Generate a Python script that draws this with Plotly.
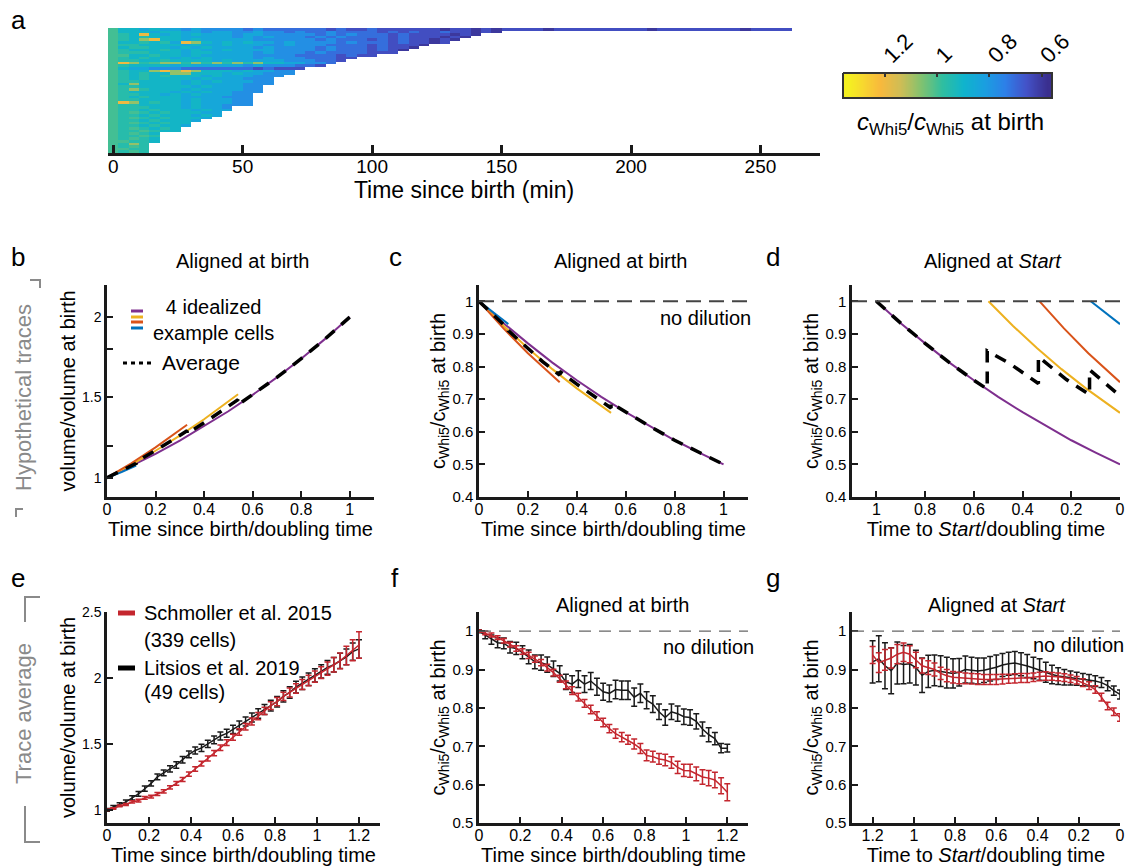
import plotly.graph_objects as go

W, H = 1129, 866
FONT = "Arial, Liberation Sans, Helvetica, sans-serif"
INK = "#1a1a1a"
GREY = "#8a8a8a"

# ---------------------------------------------------------------- panel a data
# heat map of c_Whi5 / c_Whi5 at birth, one string per cell, one char per 4-min bin
BIN_MIN = 4
# code digit -> c_Whi5 / c_Whi5 at birth
LEVELS = [0.60, 0.65, 0.71, 0.78, 0.85, 0.91, 0.96, 1.00, 1.08, 1.20]
HEAT_ROWS = [
    "7554544343" "3332322222" "2121121111" "11011010" "1111011111" "1111011111" "11101111",
    "7555455443" "4433433232" "2322221212" "11211010",
    "7659545454" "4434433333" "2323222121" "111010",
    "7656555444" "4434343332" "3232222121" "11010",
    "7658955454" "4444333333" "2322212121" "1010",
    "7556564985" "4545443433" "3323222121" "101",
    "7665555454" "4544433433" "3222212111" "0",
    "7566554545" "4444343333" "2322212110",
    "7655565454" "4544443333" "232221210",
    "7666555455" "4444343332" "32222111",
    "7755655454" "4444333322" "221211",
    "7656554545" "4444343332" "2211",
    "7665565555" "4544444333" "221",
    "7986788686" "8686855443" "32",
    "7655554544" "4443433322" "1",
    "7544333222" "222212111",
    "7655898985" "55454433",
    "7656558855" "54544333",
    "7656565554" "5444333",
    "7656555545" "444333",
    "7665555454" "544433",
    "7585555454" "444333",
    "7665555545" "44433",
    "7686555454" "44433",
    "7655554545" "44333",
    "7665545454" "4433",
    "7656555444" "4333",
    "7665555454" "4433",
    "7985655454" "4433",
    "7665555454" "4333",
    "7666555454" "43",
    "7665655545" "44",
    "7676565554" "4",
    "7665655545" "4",
    "7676565554",
    "766565554",
    "76765655",
    "76656554",
    "7676565",
    "7667655",
    "76765",
    "76676",
    "76765",
    "77665",
    "7686",
    "7676",
    "7766",
    "7676",
]
# colour bar: value range, ticks and the strip of values it shows
CBAR_RANGE = (0.58, 1.34)
CBAR_TICKS = [1.2, 1, 0.8, 0.6]
CBAR_STRIP = [1.34, 1.30, 1.26, 1.22, 1.18, 1.14, 1.10, 1.06, 1.02, 0.98,
              0.94, 0.90, 0.86, 0.82, 0.78, 0.74, 0.70, 0.66, 0.62, 0.58]
# parula-like colours at values across CBAR_RANGE
PARULA = [(0.58, "#3a2f8f"), (0.66, "#4352c8"), (0.74, "#2d7fe8"), (0.82, "#1a9fe0"),
          (0.90, "#0fb4cc"), (0.98, "#2fbea0"), (1.06, "#80c270"), (1.14, "#cfbd55"),
          (1.22, "#f8b93c"), (1.28, "#f7d530"), (1.34, "#f5f020")]

# ------------------------------------------------------- panels b-d (idealized)
T_PURPLE = [0, 0.1, 0.2, 0.3, 0.4, 0.5, 0.6, 0.7, 0.8, 0.9, 1.0]
V_PURPLE = [1.0, 1.072, 1.149, 1.231, 1.320, 1.414, 1.516, 1.625, 1.741, 1.866, 2.0]
C_PURPLE = [1.0, 0.933, 0.871, 0.812, 0.758, 0.707, 0.660, 0.616, 0.574, 0.536, 0.5]
T_ORANGE = [0, 0.1, 0.2, 0.3, 0.4, 0.54]
V_ORANGE = [1.0, 1.081, 1.168, 1.262, 1.364, 1.52]
C_ORANGE = [1.0, 0.925, 0.856, 0.792, 0.733, 0.658]
T_RED = [0, 0.1, 0.2, 0.33]
V_RED = [1.0, 1.09, 1.189, 1.33]
C_RED = [1.0, 0.917, 0.841, 0.752]
T_BLUE = [0, 0.06, 0.12]
V_BLUE = [1.0, 1.035, 1.075]
C_BLUE = [1.0, 0.966, 0.930]

T_AVG_B = [0, 0.06, 0.12, 0.12, 0.2, 0.26, 0.33, 0.33, 0.4, 0.47, 0.54, 0.54,
           0.6, 0.7, 0.8, 0.9, 1.0]
V_AVG_B = [1.0, 1.045, 1.089, 1.098, 1.168, 1.225, 1.293, 1.274, 1.342, 1.414,
           1.486, 1.454, 1.516, 1.625, 1.741, 1.866, 2.0]
C_AVG_C = [1.0, 0.958, 0.915, 0.910, 0.856, 0.815, 0.774, 0.785, 0.746, 0.708,
           0.673, 0.688, 0.660, 0.616, 0.574, 0.536, 0.5]
T_AVG_D = [1.0, 0.9, 0.8, 0.7, 0.6, 0.545, 0.545, 0.45, 0.335, 0.335, 0.22,
           0.125, 0.125, 0.06, 0.0]
C_AVG_D = [1.0, 0.933, 0.871, 0.812, 0.758, 0.731, 0.848, 0.808, 0.748, 0.83,
           0.76, 0.714, 0.79, 0.75, 0.71]

# ------------------------------------------------------ panels e-g (averages)
T_AVG = [0.00, 0.03, 0.06, 0.09, 0.12, 0.15, 0.18, 0.21, 0.24, 0.27,
         0.30, 0.33, 0.36, 0.39, 0.42, 0.45, 0.48, 0.51, 0.54, 0.57,
         0.60, 0.63, 0.66, 0.69, 0.72, 0.75, 0.78, 0.81, 0.84, 0.87,
         0.90, 0.93, 0.96, 0.99, 1.02, 1.05, 1.08, 1.11, 1.14, 1.17, 1.20]

E_RED_V = [1.00, 1.01, 1.03, 1.04, 1.06, 1.07, 1.09, 1.10, 1.12, 1.14,
           1.17, 1.20, 1.23, 1.27, 1.31, 1.35, 1.39, 1.43, 1.47, 1.51,
           1.55, 1.59, 1.63, 1.67, 1.71, 1.75, 1.79, 1.82, 1.86, 1.89,
           1.92, 1.95, 1.98, 2.01, 2.04, 2.07, 2.10, 2.13, 2.17, 2.21, 2.25]
E_RED_E = [0.005, 0.006, 0.007, 0.008, 0.009, 0.010, 0.010, 0.011, 0.012, 0.012,
           0.013, 0.014, 0.015, 0.016, 0.017, 0.018, 0.019, 0.020, 0.021, 0.022,
           0.023, 0.024, 0.025, 0.026, 0.027, 0.028, 0.030, 0.031, 0.032, 0.034,
           0.036, 0.038, 0.040, 0.042, 0.045, 0.050, 0.055, 0.060, 0.070, 0.080, 0.100]
E_BLACK_V = [1.00, 1.02, 1.04, 1.06, 1.09, 1.12, 1.16, 1.20, 1.25, 1.28,
             1.31, 1.34, 1.38, 1.42, 1.45, 1.47, 1.50, 1.53, 1.56, 1.58,
             1.61, 1.64, 1.67, 1.70, 1.73, 1.76, 1.79, 1.82, 1.86, 1.89,
             1.93, 1.96, 1.99, 2.02, 2.05, 2.08, 2.10, 2.13, 2.16, 2.20, 2.22]
E_BLACK_E = [0.010, 0.012, 0.013, 0.015, 0.016, 0.018, 0.020, 0.020, 0.022, 0.022,
             0.024, 0.025, 0.025, 0.026, 0.027, 0.028, 0.028, 0.030, 0.030, 0.030,
             0.032, 0.033, 0.034, 0.035, 0.036, 0.038, 0.040, 0.040, 0.042, 0.044,
             0.045, 0.047, 0.048, 0.050, 0.050, 0.052, 0.055, 0.058, 0.060, 0.065, 0.070]

F_RED_V = [1.000, 0.995, 0.990, 0.983, 0.975, 0.965, 0.955, 0.947, 0.937, 0.927,
           0.918, 0.905, 0.892, 0.876, 0.860, 0.845, 0.828, 0.812, 0.796, 0.779,
           0.762, 0.746, 0.733, 0.724, 0.717, 0.706, 0.694, 0.676, 0.673, 0.667,
           0.664, 0.658, 0.645, 0.637, 0.636, 0.628, 0.620, 0.617, 0.612, 0.597, 0.580]
F_RED_E = [0.003, 0.004, 0.005, 0.005, 0.006, 0.006, 0.007, 0.007, 0.008, 0.008,
           0.008, 0.009, 0.009, 0.009, 0.010, 0.010, 0.010, 0.010, 0.011, 0.011,
           0.011, 0.011, 0.012, 0.012, 0.012, 0.013, 0.013, 0.014, 0.014, 0.014,
           0.015, 0.015, 0.016, 0.016, 0.017, 0.018, 0.019, 0.020, 0.020, 0.021, 0.022]
F_BLACK_V = [1.000, 0.990, 0.978, 0.970, 0.968, 0.958, 0.955, 0.945, 0.933, 0.920,
             0.918, 0.913, 0.902, 0.890, 0.868, 0.862, 0.875, 0.862, 0.870, 0.855,
             0.842, 0.838, 0.848, 0.846, 0.846, 0.828, 0.838, 0.820, 0.810, 0.790,
             0.775, 0.790, 0.785, 0.777, 0.775, 0.765, 0.745, 0.730, 0.720, 0.695, 0.695]
F_BLACK_E = [0.004, 0.010, 0.012, 0.013, 0.014, 0.015, 0.016, 0.017, 0.018, 0.018,
             0.020, 0.020, 0.020, 0.020, 0.020, 0.022, 0.022, 0.022, 0.022, 0.022,
             0.022, 0.022, 0.024, 0.024, 0.024, 0.024, 0.024, 0.022, 0.022, 0.020,
             0.020, 0.020, 0.020, 0.020, 0.020, 0.020, 0.018, 0.018, 0.016, 0.012, 0.010]

# panel g: x is time to Start (axis drawn reversed)
G_RED_V = [0.775, 0.790, 0.805, 0.828, 0.848, 0.858, 0.866, 0.872, 0.876, 0.879,
           0.881, 0.882, 0.883, 0.882, 0.880, 0.878, 0.878, 0.877, 0.876, 0.875,
           0.874, 0.874, 0.874, 0.875, 0.876, 0.877, 0.878, 0.880, 0.884, 0.890,
           0.900, 0.905, 0.910, 0.925, 0.940, 0.945, 0.940, 0.930, 0.925, 0.918, 0.938]
G_RED_E = [0.010, 0.010, 0.010, 0.010, 0.010, 0.010, 0.010, 0.010, 0.010, 0.010,
           0.010, 0.010, 0.011, 0.011, 0.011, 0.012, 0.012, 0.012, 0.012, 0.013,
           0.013, 0.013, 0.013, 0.014, 0.014, 0.014, 0.015, 0.015, 0.016, 0.016,
           0.017, 0.018, 0.019, 0.020, 0.022, 0.024, 0.025, 0.026, 0.027, 0.026, 0.022]
G_BLACK_V = [0.835, 0.845, 0.858, 0.866, 0.870, 0.872, 0.874, 0.876, 0.878, 0.880,
             0.883, 0.887, 0.893, 0.900, 0.904, 0.909, 0.914, 0.917, 0.915, 0.912,
             0.906, 0.902, 0.898, 0.896, 0.898, 0.900, 0.893, 0.890, 0.892, 0.896,
             0.898, 0.895, 0.885, 0.905, 0.915, 0.913, 0.917, 0.897, 0.910, 0.928, 0.920]
G_BLACK_E = [0.012, 0.012, 0.013, 0.013, 0.014, 0.015, 0.016, 0.017, 0.018, 0.020,
             0.022, 0.024, 0.026, 0.028, 0.028, 0.030, 0.030, 0.030, 0.030, 0.030,
             0.032, 0.032, 0.032, 0.034, 0.034, 0.035, 0.036, 0.038, 0.040, 0.040,
             0.040, 0.042, 0.045, 0.045, 0.050, 0.050, 0.055, 0.060, 0.060, 0.060, 0.055]

PURPLE, ORANGE, REDORANGE, BLUE = "#7E2F8E", "#EDB120", "#D95319", "#0072BD"
RED = "#C4262E"


def px(x, y):
    """pixel position -> paper coordinates"""
    return x / W, 1 - y / H


def ids(n):
    return ("x" if n == 1 else f"x{n}"), ("y" if n == 1 else f"y{n}")


fig = go.Figure()

lo, hi = CBAR_RANGE
colorscale = [[(v - lo) / (hi - lo), c] for v, c in PARULA]

# ---- panel a heat map
n_cols = max(len(r) for r in HEAT_ROWS)
z = [[LEVELS[int(ch)] for ch in row] + [None] * (n_cols - len(row)) for row in HEAT_ROWS]
fig.add_trace(go.Heatmap(
    z=z, x0=0, dx=BIN_MIN, y0=0, dy=1, xaxis="x", yaxis="y",
    colorscale=colorscale, zmin=lo, zmax=hi, showscale=False, hoverinfo="skip",
))

# ---- colour bar (its own small axes, runs high -> low like the original)
fig.add_trace(go.Heatmap(
    z=[CBAR_STRIP, CBAR_STRIP], x=CBAR_STRIP, y=[0, 1], xaxis="x8", yaxis="y8",
    colorscale=colorscale, zmin=lo, zmax=hi, showscale=False, zsmooth="best",
    hoverinfo="skip",
))


def line(n, x, y, color, width=2.0, dash=None):
    xa, ya = ids(n)
    fig.add_trace(go.Scatter(x=x, y=y, xaxis=xa, yaxis=ya, mode="lines",
                             line=dict(color=color, width=width, dash=dash),
                             showlegend=False, hoverinfo="skip"))


AVG_DASH = "12px,9px"

# ---- panel b
line(2, T_PURPLE, V_PURPLE, PURPLE)
line(2, T_ORANGE, V_ORANGE, ORANGE)
line(2, T_RED, V_RED, REDORANGE)
line(2, T_BLUE, V_BLUE, BLUE)
line(2, T_AVG_B, V_AVG_B, "black", 3.5, AVG_DASH)

# ---- panel c
line(3, T_PURPLE, C_PURPLE, PURPLE)
line(3, T_ORANGE, C_ORANGE, ORANGE)
line(3, T_RED, C_RED, REDORANGE)
line(3, T_BLUE, C_BLUE, BLUE)
line(3, T_AVG_B, C_AVG_C, "black", 3.5, AVG_DASH)

# ---- panel d (time to Start = end time - time since birth)
line(4, [T_PURPLE[-1] - t for t in T_PURPLE], C_PURPLE, PURPLE)
line(4, [T_ORANGE[-1] - t for t in T_ORANGE], C_ORANGE, ORANGE)
line(4, [T_RED[-1] - t for t in T_RED], C_RED, REDORANGE)
line(4, [T_BLUE[-1] - t for t in T_BLUE], C_BLUE, BLUE)
line(4, T_AVG_D, C_AVG_D, "black", 3.5, AVG_DASH)


def errline(n, x, y, err, color):
    xa, ya = ids(n)
    fig.add_trace(go.Scatter(
        x=x, y=y, xaxis=xa, yaxis=ya, mode="lines",
        line=dict(color=color, width=1.5),
        error_y=dict(type="data", array=err, visible=True, color=color,
                     thickness=1.5, width=3),
        showlegend=False, hoverinfo="skip"))


errline(5, T_AVG, E_BLACK_V, E_BLACK_E, INK)
errline(5, T_AVG, E_RED_V, E_RED_E, RED)
errline(6, T_AVG, F_BLACK_V, F_BLACK_E, INK)
errline(6, T_AVG, F_RED_V, F_RED_E, RED)
errline(7, T_AVG, G_BLACK_V, G_BLACK_E, INK)
errline(7, T_AVG, G_RED_V, G_RED_E, RED)

# ---------------------------------------------------------------- axes layout
base = dict(showline=True, linecolor=INK, linewidth=2.5, ticks="inside",
            ticklen=6, tickwidth=2, tickcolor=INK, showgrid=False,
            zeroline=False, fixedrange=True, automargin=False,
            tickfont=dict(family=FONT, size=16, color="black"))


def title(text, size=20, standoff=2):
    return dict(text=text, font=dict(family=FONT, size=size, color="black"),
                standoff=standoff)


BOX = {  # left, right, top, bottom in px
    2: (107, 374, 285, 497), 3: (479, 748, 285, 497), 4: (852, 1120, 285, 497),
    5: (107, 380, 612, 823), 6: (479, 748, 612, 823), 7: (852, 1120, 612, 823),
}
T_BIRTH = "Time since birth/doubling time"
T_START = "Time to <i>Start</i>/doubling time"
C_TITLE = "c<sub>Whi5</sub>/c<sub>Whi5</sub> at birth"
V_TITLE = "volume/volume at birth"
X_TICKS_1 = [0, 0.2, 0.4, 0.6, 0.8, 1]
X_TICKS_12 = [0, 0.2, 0.4, 0.6, 0.8, 1, 1.2]
AX = {
    2: dict(xr=[0, 1.1], xt=X_TICKS_1, xtitle=T_BIRTH, yr=[0.88, 2.2],
            yt=[1, 1.5, 2], minor=[1.2, 1.8], ytitle=V_TITLE, yfs=14),
    3: dict(xr=[0, 1.1], xt=X_TICKS_1, xtitle=T_BIRTH, yr=[0.4, 1.05],
            yt=[0.4, 0.5, 0.6, 0.7, 0.8, 0.9, 1], ytitle=C_TITLE, yfs=15),
    4: dict(xr=[1.1, 0], xt=X_TICKS_1, xtitle=T_START, yr=[0.4, 1.05],
            yt=[0.4, 0.5, 0.6, 0.7, 0.8, 0.9, 1], ytitle=C_TITLE, yfs=15),
    5: dict(xr=[0, 1.3], xt=X_TICKS_12, xtitle=T_BIRTH, yr=[0.9, 2.5],
            yt=[1, 1.5, 2, 2.5], ytitle=V_TITLE, yfs=14),
    6: dict(xr=[0, 1.3], xt=X_TICKS_12, xtitle=T_BIRTH, yr=[0.5, 1.05],
            yt=[0.5, 0.6, 0.7, 0.8, 0.9, 1], ytitle=C_TITLE, yfs=15),
    7: dict(xr=[1.3, 0], xt=X_TICKS_12, xtitle=T_START, yr=[0.5, 1.05],
            yt=[0.5, 0.6, 0.7, 0.8, 0.9, 1], ytitle=C_TITLE, yfs=15),
}

layout_axes = {}
ax_x0, ay0 = px(108, 153)
ax_x1, ay1 = px(820, 28)
layout_axes["xaxis"] = dict(base, domain=[ax_x0, ax_x1], range=[-2, 273], anchor="y",
                            tickvals=[0, 50, 100, 150, 200, 250], linewidth=3,
                            ticklen=8, tickwidth=2.5, ticklabelstandoff=-6,
                            tickfont=dict(family=FONT, size=19, color="black"),
                            title=title("Time since birth (min)", 23, 3))
layout_axes["yaxis"] = dict(domain=[ay0, ay1], range=[len(HEAT_ROWS) - 0.5, -0.5],
                            visible=False, anchor="x", fixedrange=True)

# colour bar axes
cb_x0, cb_y0 = px(843, 98)
cb_x1, cb_y1 = px(1052, 73)
layout_axes["xaxis8"] = dict(domain=[cb_x0, cb_x1], range=[1.36, 0.56], anchor="y8",
                             side="top", showline=False, showgrid=False, zeroline=False,
                             ticks="inside", ticklen=4, tickwidth=1.5, tickcolor="#333",
                             tickvals=CBAR_TICKS, tickangle=-45, fixedrange=True,
                             automargin=False,
                             tickfont=dict(family=FONT, size=22, color="black"))
layout_axes["yaxis8"] = dict(domain=[cb_y0, cb_y1], range=[0, 1], anchor="x8",
                             visible=False, fixedrange=True)

for n, (l, r, t, b) in BOX.items():
    a = AX[n]
    x0, y0 = px(l, b)
    x1, y1 = px(r, t)
    xa, ya = ids(n)
    layout_axes[f"xaxis{n}"] = dict(base, domain=[x0, x1], range=a["xr"], anchor=ya,
                                    tickvals=a["xt"], ticklabelstandoff=-4,
                                    title=title(a["xtitle"], 20, 3))
    ydict = dict(base, domain=[y0, y1], range=a["yr"], anchor=xa, tickvals=a["yt"],
                 tickfont=dict(family=FONT, size=a["yfs"], color="black"),
                 title=title(a["ytitle"], 20, 1))
    if "minor" in a:
        ydict["minor"] = dict(tickvals=a["minor"], ticks="inside", ticklen=6,
                              tickwidth=2, tickcolor=INK, showgrid=False)
    layout_axes[f"yaxis{n}"] = ydict

# ---------------------------------------------------------------- annotations
ann = []


def text(x, y, s, size=20, color="black", xanchor="center", angle=0):
    px_, py_ = px(x, y)
    ann.append(dict(x=px_, y=py_, xref="paper", yref="paper", text=s, showarrow=False,
                    xanchor=xanchor, yanchor="middle", textangle=angle,
                    font=dict(family=FONT, size=size, color=color)))


for letter, lx, ly in [("a", 18, 20), ("b", 18, 257), ("c", 395, 257), ("d", 773, 257),
                       ("e", 18, 578), ("f", 395, 578), ("g", 773, 578)]:
    text(lx, ly, letter, 26)

text(242, 261, "Aligned at birth")
text(620, 261, "Aligned at birth")
text(993, 261, "Aligned at <i>Start</i>")
text(622, 605, "Aligned at birth")
text(997, 605, "Aligned at <i>Start</i>")

text(705, 318, "no dilution")
text(708, 647, "no dilution")
text(1078, 645, "no dilution")

text(23, 398, "Hypothetical traces", 22, GREY, angle=-90)
text(23, 714, "Trace average", 22, GREY, angle=-90)

text(950, 124, "<i>c</i><sub>Whi5</sub>/<i>c</i><sub>Whi5</sub> at birth", 24)

# legend of panel b
text(151, 320, "4 idealized<br>example cells", 20, xanchor="left")
text(160, 363, "Average", 21, xanchor="left")
# legend of panel e
text(142, 613, "Schmoller et al. 2015", 20, xanchor="left")
text(142, 640, "(339 cells)", 20, xanchor="left")
text(142, 668, "Litsios et al. 2019", 20, xanchor="left")
text(142, 692, "(49 cells)", 20, xanchor="left")

# ---------------------------------------------------------------- shapes
shapes = []


def seg(x0, y0, x1, y1, color, width, dash=None):
    a0, b0 = px(x0, y0)
    a1, b1 = px(x1, y1)
    shapes.append(dict(type="line", xref="paper", yref="paper", x0=a0, y0=b0,
                       x1=a1, y1=b1, line=dict(color=color, width=width, dash=dash)))


def path(points, color, width):
    pts = [px(x, y) for x, y in points]
    d = "M " + " L ".join(f"{a},{b}" for a, b in pts)
    shapes.append(dict(type="path", xref="paper", yref="paper", path=d,
                       line=dict(color=color, width=width)))


for col, ly in [(PURPLE, 311), (ORANGE, 317), (REDORANGE, 322), (BLUE, 328)]:
    seg(131, ly, 143, ly, col, 3)
seg(123, 363, 153, 363, "black", 3, "4px,4px")
seg(118, 613, 135, 613, RED, 5)
seg(118, 668, 135, 668, "black", 5)

# colour bar frame
path([(843, 73), (1052, 73), (1052, 98), (843, 98), (843, 73)], "#333", 2)

# gray brackets beside the row labels
path([(30, 280), (40, 280), (40, 288)], GREY, 2)
path([(23, 509), (16, 509), (16, 517)], GREY, 2)
path([(40, 597), (25, 597), (25, 622)], GREY, 2)
path([(25, 806), (25, 842), (40, 842)], GREY, 2)

# "no dilution" reference lines at 1
for n, w, dash, col in [(3, 2, "15px,8px", "#444"), (4, 2, "15px,8px", "#444"),
                        (6, 1.3, "12px,8px", "#666"), (7, 1.3, "12px,8px", "#666")]:
    xa, ya = ids(n)
    shapes.append(dict(type="line", xref=f"{xa} domain", yref=ya, x0=0, x1=1, y0=1, y1=1,
                       line=dict(color=col, width=w, dash=dash)))

fig.update_layout(
    width=W, height=H, autosize=False,
    margin=dict(l=0, r=0, t=0, b=0),
    paper_bgcolor="white", plot_bgcolor="white",
    font=dict(family=FONT, color="black"),
    showlegend=False,
    annotations=ann, shapes=shapes,
    **layout_axes,
)

# drop the browser's default page margin so the figure fills the window exactly
fig.write_html("out.html", config={"displayModeBar": False},
               post_script="document.body.style.margin='0';document.body.style.overflow='hidden';")
